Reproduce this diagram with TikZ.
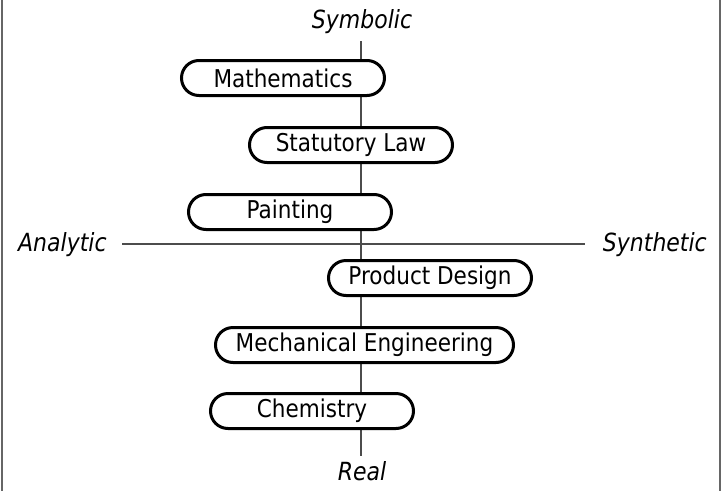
\documentclass[tikz,border=0pt]{standalone}
\usepackage{fontspec}
\setmainfont[FakeStretch=0.88]{DejaVu Sans}
\begin{document}
\begin{tikzpicture}[x=1pt,y=-1pt,
  field/.style={draw=black, fill=white, line width=3pt, rounded corners=17.5pt,
    minimum width=203pt, minimum height=35pt, inner sep=0pt,
    font=\fontsize{24.5}{28}\selectfont},
  axislabel/.style={inner sep=0pt, font=\fontsize{25}{28}\selectfont\itshape},
  axis/.style={draw=black!70, line width=1.5pt},
  frame/.style={draw=black!60, line width=2pt}]
\useasboundingbox (0,0) rectangle (724,491);
% frame sides
\coordinate (fl1) at (2,0);
\coordinate (fl2) at (2,491);
\coordinate (fr1) at (720,0);
\coordinate (fr2) at (720,491);
\draw[frame] (fl1) -- (fl2);
\draw[frame] (fr1) -- (fr2);
% axis labels
\node[axislabel] (symbolic) at (362,22) {Symbolic};
\node[axislabel] (real) at (362,471) {Real};
\node[axislabel, anchor=west] (analytic) at (18,245) {Analytic};
\node[axislabel, anchor=east] (synthetic) at (707,245) {Synthetic};
% axes
\coordinate (vtop) at (361,41);
\coordinate (vbot) at (361,456);
\coordinate (hleft) at (122,244);
\coordinate (hright) at (585,244);
\draw[axis] (vtop) -- (vbot);
\draw[axis] (hleft) -- (hright);
% fields
\node[field] (math) at (283,78) {Mathematics};
\node[field] (law) at (351,145) {Statutory Law};
\node[field] (paint) at (290,212) {Painting};
\node[field] (design) at (430,278) {Product Design};
\node[field, minimum width=298pt] (mech) at (364.5,345) {Mechanical Engineering};
\node[field] (chem) at (312,411) {Chemistry};
\end{tikzpicture}
\end{document}
